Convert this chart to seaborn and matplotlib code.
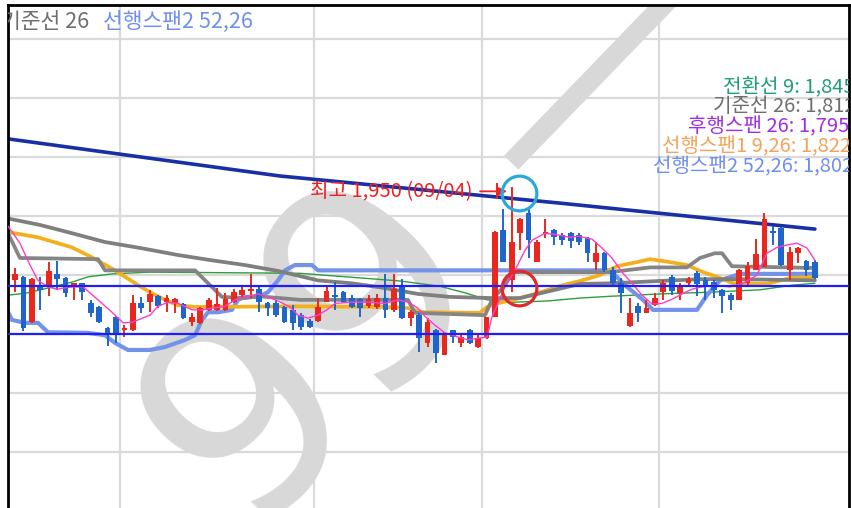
import matplotlib
matplotlib.use("Agg")
import matplotlib.pyplot as plt
import seaborn as sns
import numpy as np
import pandas as pd

# daily candles, 96 sessions (prices)
opens = [1791, 1796, 1720, 1781, 1781, 1802, 1795, 1780, 1786, 1752,
         1746, 1710, 1729, 1707, 1707, 1752, 1754, 1764, 1754, 1752,
         1751, 1720, 1719, 1741, 1741, 1741, 1754, 1766, 1773, 1776,
         1752, 1752, 1746, 1741, 1732, 1722, 1722, 1754, 1766, 1771,
         1761, 1759, 1747, 1746, 1761, 1741, 1781, 1727, 1732, 1685,
         1707, 1664, 1707, 1685, 1707, 1678, 1693, 1729, 1876, 1791,
         1871, 1905, 1822, 1869, 1876, 1868, 1871, 1868, 1863, 1822,
         1837, 1808, 1786, 1713, 1747, 1736, 1749, 1771, 1797, 1769,
         1786, 1803, 1791, 1788, 1774, 1766, 1758, 1786, 1808, 1813,
         1874, 1880, 1808, 1837, 1824, 1822]
highs = [1812, 1798, 1795, 1796, 1822, 1824, 1796, 1787, 1787, 1758,
         1747, 1712, 1730, 1715, 1766, 1763, 1774, 1766, 1766, 1761,
         1752, 1736, 1746, 1761, 1778, 1769, 1776, 1780, 1802, 1780,
         1754, 1758, 1747, 1749, 1736, 1725, 1761, 1780, 1788, 1773,
         1766, 1761, 1766, 1768, 1802, 1802, 1793, 1741, 1736, 1727,
         1708, 1703, 1707, 1702, 1708, 1698, 1729, 1874, 1912, 1950,
         1896, 1913, 1859, 1895, 1878, 1871, 1873, 1871, 1864, 1856,
         1839, 1813, 1795, 1761, 1752, 1758, 1769, 1791, 1800, 1786,
         1796, 1807, 1796, 1791, 1776, 1769, 1810, 1822, 1861, 1905,
         1883, 1881, 1847, 1847, 1825, 1825]
lows = [1771, 1705, 1718, 1741, 1764, 1774, 1763, 1758, 1758, 1729,
        1719, 1680, 1685, 1695, 1706, 1736, 1737, 1744, 1737, 1736,
        1725, 1713, 1717, 1739, 1739, 1739, 1752, 1761, 1761, 1737,
        1730, 1729, 1719, 1707, 1707, 1710, 1720, 1754, 1741, 1752,
        1744, 1729, 1744, 1742, 1727, 1737, 1725, 1713, 1670, 1678,
        1651, 1664, 1685, 1678, 1683, 1676, 1691, 1729, 1822, 1771,
        1842, 1829, 1822, 1863, 1851, 1851, 1846, 1851, 1822, 1808,
        1805, 1780, 1736, 1712, 1720, 1736, 1747, 1758, 1766, 1758,
        1783, 1764, 1758, 1761, 1736, 1741, 1758, 1783, 1808, 1813,
        1851, 1815, 1791, 1820, 1798, 1793]
closes = [1802, 1710, 1793, 1774, 1807, 1793, 1769, 1786, 1771, 1736,
          1720, 1702, 1702, 1710, 1752, 1744, 1768, 1747, 1761, 1759,
          1727, 1729, 1744, 1758, 1751, 1759, 1771, 1774, 1776, 1754,
          1744, 1732, 1720, 1719, 1712, 1712, 1746, 1773, 1763, 1754,
          1746, 1744, 1759, 1761, 1741, 1776, 1727, 1737, 1693, 1720,
          1668, 1698, 1695, 1695, 1685, 1693, 1729, 1873, 1822, 1856,
          1895, 1859, 1856, 1873, 1864, 1859, 1857, 1856, 1837, 1837,
          1808, 1786, 1769, 1736, 1736, 1744, 1761, 1786, 1773, 1780,
          1793, 1785, 1783, 1774, 1764, 1758, 1808, 1815, 1836, 1895,
          1871, 1817, 1839, 1846, 1808, 1795]

# indicator lines as (session index, price) points
trend_x = [-0.83, 31.47, 64.73, 95.0]
trend_y = [2031, 1968, 1922, 1878]

gray1_x = [-0.83, 2.97, 6.77, 10.69, 14.85, 19.36, 23.4, 27.3, 31.24, 35.99, 40.02, 43.94,
           47.86, 51.66, 56.65, 59.98, 62.95, 67.1, 70.67, 76.6, 81.35, 86.1, 95.0]
gray1_y = [1896, 1885, 1871, 1856, 1846, 1834, 1825, 1817, 1807, 1791, 1786, 1778,
           1768, 1763, 1761, 1761, 1771, 1785, 1786, 1790, 1793, 1793, 1791]

kijun_x = [-0.83, 0.59, 9.86, 10.69, 21.38, 24.58, 27.3, 29.1, 33.85, 46.67, 47.5, 55.82,
           56.65, 58.2, 59.03, 70.67, 75.42, 79.8, 81.35, 83.1, 83.97, 85.15, 95.0]
kijun_y = [1871, 1829, 1827, 1808, 1808, 1763, 1761, 1764, 1758, 1758, 1736, 1732,
           1758, 1783, 1805, 1805, 1813, 1813, 1829, 1837, 1837, 1815, 1812]

span1_x = [-0.83, 2.73, 6.77, 9.14, 11.88, 14.61, 16.03, 17.81, 19.36, 21.38, 33.85, 43.94,
           46.67, 48.46, 55.23, 56.06, 57.24, 59.14, 62.0, 65.08, 67.1, 69.48, 71.5, 73.87,
           75.42, 77.79, 79.8, 81.7, 83.4, 85.27, 89.3, 92.04, 95.0]
span1_y = [1873, 1864, 1847, 1830, 1808, 1783, 1771, 1758, 1749, 1746, 1747, 1746,
           1744, 1737, 1736, 1746, 1752, 1758, 1769, 1783, 1790, 1800, 1815, 1822,
           1827, 1822, 1817, 1805, 1797, 1786, 1785, 1795, 1797]

span2_x = [-0.95, -0.36, 1.19, 2.73, 3.92, 8.67, 10.69, 11.88, 13.42, 16.03, 17.81, 20.19,
           21.38, 22.21, 22.92, 24.1, 25.77, 26.48, 27.3, 28.86, 30.05, 31.24, 32.07, 33.25,
           35.27, 35.99, 70.67, 72.68, 74.58, 75.77, 81.0, 82.19, 83.72, 86.1, 95.0]
span2_y = [1741, 1724, 1719, 1719, 1703, 1702, 1698, 1685, 1673, 1673, 1678, 1690,
           1698, 1724, 1737, 1737, 1741, 1758, 1763, 1763, 1771, 1791, 1808, 1817,
           1817, 1808, 1808, 1780, 1758, 1741, 1741, 1766, 1791, 1802, 1802]

green_x = [-0.83, 1.19, 3.92, 6.77, 8.67, 11.52, 16.03, 33.85, 45.72, 50.48, 53.68, 56.06,
           59.14, 63.18, 67.1, 70.67, 76.6, 82.54, 88.48, 92.4, 95.0]
green_y = [1766, 1769, 1778, 1788, 1797, 1802, 1805, 1803, 1790, 1781, 1769, 1758,
           1754, 1756, 1761, 1764, 1768, 1771, 1775, 1783, 1786]

ma_x = [-0.83, 0.59, 1.78, 2.73, 3.92, 4.99, 6.77, 8.08, 9.86, 11.52, 12.83, 13.9,
        16.03, 16.98, 18.17, 19.36, 21.02, 22.21, 23.4, 24.94, 26.13, 27.3, 28.86, 30.05,
        31.24, 32.66, 33.61, 34.8, 35.99, 37.05, 38.0, 40.02, 41.92, 43.94, 45.49, 46.67,
        47.86, 48.69, 49.88, 51.07, 52.61, 53.8, 54.99, 56.06, 56.65, 58.2, 59.38, 60.57,
        61.4, 62.95, 64.49, 65.91, 66.86, 68.53, 69.71, 70.9, 72.09, 73.28, 74.47, 75.65,
        76.84, 78.03, 79.22, 80.4, 81.59, 82.9, 84.92, 86.46, 88.12, 89.31, 90.5, 91.69,
        92.87, 94.06, 95.0]
ma_y = [1883, 1854, 1817, 1791, 1780, 1776, 1780, 1780, 1758, 1737, 1719, 1720,
        1732, 1747, 1754, 1752, 1741, 1741, 1744, 1747, 1758, 1763, 1768, 1763,
        1756, 1746, 1732, 1727, 1732, 1741, 1752, 1754, 1754, 1752, 1758, 1754,
        1744, 1730, 1715, 1702, 1695, 1690, 1693, 1695, 1729, 1780, 1808, 1842,
        1859, 1871, 1868, 1864, 1866, 1861, 1846, 1829, 1805, 1786, 1766, 1751,
        1752, 1759, 1768, 1776, 1780, 1783, 1780, 1786, 1800, 1837, 1847, 1851,
        1854, 1846, 1825]

month_breaks = [12.5, 35.5, 55.5, 76.5]
grid_prices = [1500, 1600, 1700, 1800, 1900, 2000, 2100, 2200]
support_levels = [1781, 1700]

legend_labels = ["전환선 9: 1,845", "기준선 26: 1,812", "후행스팬 26: 1,795",
                 "선행스팬1 9,26: 1,822", "선행스팬2 52,26: 1,802"]
legend_colors = ["#1f9e7a", "#6e6e6e", "#a12de0", "#f5a25a", "#6f8ff0"]

RED = "#e8281e"
BLUE = "#1f66cc"

sns.set_theme(style="white")
plt.rcParams['font.family'] = ['Noto Sans CJK KR', 'DejaVu Sans']

fig = plt.figure(figsize=(8.51, 5.08), dpi=100)
ax = fig.add_axes([8 / 851, 0, 841 / 851, 503 / 508])
ax.set_xlim(-0.83, 99.05)
ax.set_ylim(1405, 2258)

# grid
ax.set_xticks(month_breaks)
ax.set_yticks(grid_prices)
ax.grid(True, color="#dadada", linewidth=1.6)
ax.set_axisbelow(True)
ax.tick_params(length=0, labelbottom=False, labelleft=False)
for side in ["left", "top", "right"]:
    ax.spines[side].set_color("black")
    ax.spines[side].set_linewidth(2)
ax.spines["bottom"].set_visible(False)

# watermark
ax.text(0.52, 0.55, "99 —", transform=ax.transAxes, rotation=46,
        fontsize=200, color="#d8d8d8", family="DejaVu Sans",
        ha="center", va="center", zorder=1, clip_on=True)


def draw_line(xs, ys, color, lw, z):
    sns.lineplot(x=xs, y=ys, ax=ax, color=color, linewidth=lw,
                 estimator=None, sort=False, zorder=z)


draw_line(green_x, green_y, "#2e9e3c", 1.0, 2)
draw_line(span2_x, span2_y, "#7393ea", 3.0, 2.1)
draw_line(span1_x, span1_y, "#f2b01e", 2.7, 2.2)
draw_line(gray1_x, gray1_y, "#7f7f7f", 2.7, 2.3)
draw_line(kijun_x, kijun_y, "#858585", 2.7, 2.3)
draw_line(trend_x, trend_y, "#1a2ea6", 2.6, 2.4)

# candles
df = pd.DataFrame({"o": opens, "h": highs, "l": lows, "c": closes})
idx = np.arange(len(df))
colors = np.where(df["c"] >= df["o"], RED, BLUE)
ax.vlines(idx, df["l"], df["h"], colors=colors, linewidth=1.4, zorder=4)
body_low = np.minimum(df["o"], df["c"])
body_h = np.maximum((df["c"] - df["o"]).abs(), 3)
ax.bar(idx, body_h, bottom=body_low, width=0.68, color=colors, linewidth=0, zorder=5)

draw_line(ma_x, ma_y, "#ff3cc8", 1.0, 5.5)

for lvl in support_levels:
    ax.axhline(lvl, color="#1e1ef5", linewidth=1.6, zorder=6)

# highest-price marker
ax.text(54.3, 1942, "최고 1,950 (09/04)", color="#f02020", fontsize=14.5,
        ha="right", va="center", zorder=7)
ax.annotate("", xy=(58.75, 1942), xytext=(54.9, 1942),
            arrowprops=dict(arrowstyle="-|>", color="#f02020", lw=1.3), zorder=7)
ax.plot([57.25], [1942], marker="|", markersize=11, color="#f02020", mew=1.4, zorder=7)

ax.plot([59.85], [1940], marker="o", markersize=25, fillstyle="none",
        markeredgecolor="#2aa8dc", markeredgewidth=2.3, zorder=8)
ax.plot([59.85], [1778], marker="o", markersize=25, fillstyle="none",
        markeredgecolor="#e02a2a", markeredgewidth=2.3, zorder=8)

# legends
ax.text(-0.008, 0.966, "기준선 26", transform=ax.transAxes, color="#6e6e6e",
        fontsize=15.5, va="center", ha="left", clip_on=True, zorder=9)
ax.text(0.113, 0.966, "선행스팬2 52,26", transform=ax.transAxes, color="#6f8ff0",
        fontsize=15.5, va="center", ha="left", clip_on=True, zorder=9)

legend_x = [0.850, 0.838, 0.809, 0.778, 0.767]
legend_y = [0.837, 0.797, 0.757, 0.718, 0.678]
for label, col, lx, ly in zip(legend_labels, legend_colors, legend_x, legend_y):
    ax.text(lx, ly, label, transform=ax.transAxes, color=col, fontsize=14.5,
            va="center", ha="left", clip_on=True, zorder=9)

ax.set_xlabel("")
ax.set_ylabel("")
fig.savefig("out.png", dpi=100)
